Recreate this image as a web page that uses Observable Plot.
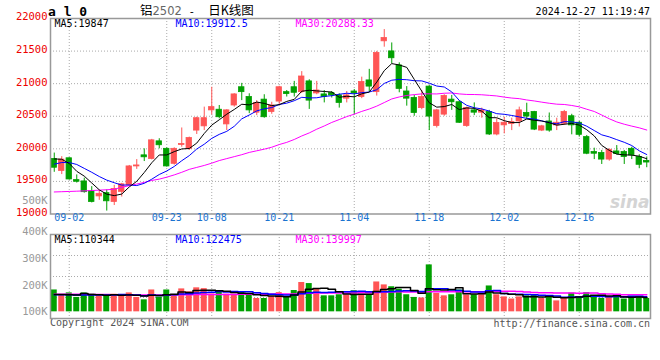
<!DOCTYPE html>
<html><head><meta charset="utf-8">
<script src="https://cdn.jsdelivr.net/npm/d3@7"></script>
<script src="https://cdn.jsdelivr.net/npm/@observablehq/plot@0.6"></script>
<style>
body{margin:0;background:#fff;}
#wrap{position:relative;width:660px;height:360px;background:#fff;overflow:hidden;font-family:"DejaVu Sans Mono",monospace;}
.abs{position:absolute;white-space:pre;}
#wrap svg{position:absolute;left:0;}
</style></head><body>
<div id="wrap">
  <div class="abs" style="left:48px;top:4px;font-size:13px;line-height:16px;font-weight:bold;">a l 0</div>
  <div class="abs" style="left:140px;top:2px;font-size:12.5px;line-height:16px;font-family:'Noto Sans CJK SC',sans-serif;">铝<span style="color:#666;font-family:'DejaVu Sans',sans-serif;font-size:11.5px;">2502</span><span style="font-family:'DejaVu Sans Mono',monospace;font-size:11px;"> -  </span>日K线图</div>
  <div class="abs" id="stamp" style="right:10px;top:6px;font-size:10px;line-height:12px;"></div>
  <div class="abs" id="copy" style="left:50px;top:317px;font-size:10px;line-height:12px;color:#555;"></div>
  <div class="abs" id="url" style="right:10px;top:318px;font-size:10px;line-height:12px;color:#555;"></div>
</div>
<script>
// ---------------- data ----------------
const dates = ["08-29","08-30",
"09-02","09-03","09-04","09-05","09-06",
"09-09","09-10","09-11","09-12","09-13",
"09-18","09-19","09-20",
"09-23","09-24","09-25","09-26","09-27",
"09-30",
"10-08","10-09","10-10","10-11",
"10-14","10-15","10-16","10-17","10-18",
"10-21","10-22","10-23","10-24","10-25",
"10-28","10-29","10-30","10-31","11-01",
"11-04","11-05","11-06","11-07","11-08",
"11-11","11-12","11-13","11-14","11-15",
"11-18","11-19","11-20","11-21","11-22",
"11-25","11-26","11-27","11-28","11-29",
"12-02","12-03","12-04","12-05","12-06",
"12-09","12-10","12-11","12-12","12-13",
"12-16","12-17","12-18","12-19","12-20",
"12-23","12-24","12-25","12-26","12-27"];

const opens = [19845,19660,19855,19520,19500,19350,19270,19320,19185,19340,
19440,19730,19900,19845,20115,20000,19770,20060,20000,20280,
20345,20590,20600,20375,20665,20945,20795,20555,20755,20565,
20725,20870,20945,20870,21035,20850,20835,20855,20820,20770,
20880,20795,21050,20870,21650,21495,21280,20880,20780,20625,
20955,20350,20525,20755,20715,20350,20590,20555,20565,20220,
20360,20380,20420,20550,20565,20280,20420,20360,20385,20500,
20400,20180,19950,19935,19835,19960,19950,20000,19875,19815];
const highs = [19935,19880,19860,19600,19550,19420,19360,19370,19440,19470,
19745,19835,20000,20145,20155,20015,20015,20320,20180,20485,
20640,20945,20665,20600,20845,21005,20845,20740,20830,20715,
20960,20895,21035,21185,21060,21035,20895,20880,20845,20880,
20910,21100,21220,21495,21830,21625,21320,20955,20820,20895,
20970,20605,20830,20820,20740,20640,20705,20625,20590,20460,
20485,20470,20640,20700,20575,20360,20550,20470,20590,20530,
20420,20205,20010,19975,20000,20050,19975,20025,19910,19875];
const lows = [19640,19605,19520,19475,19320,19170,19210,19045,19130,19260,
19420,19685,19805,19830,20000,19720,19750,20025,19975,20220,
20280,20520,20460,20280,20640,20740,20540,20510,20470,20530,
20665,20795,20795,20850,20605,20830,20705,20780,20625,20705,
20525,20770,20880,20810,21560,21305,20860,20655,20500,20600,
20280,20320,20500,20590,20390,20330,20510,20470,20205,20200,
20230,20280,20335,20460,20280,20265,20255,20280,20360,20215,
20180,19910,19835,19760,19810,19910,19760,19835,19695,19710];
const closes = [19710,19835,19530,19495,19335,19185,19310,19195,19385,19455,
19730,19745,19870,20130,20055,19730,20000,20075,20165,20470,
20470,20640,20485,20590,20835,20870,20590,20705,20485,20665,
20945,20840,20860,21110,20740,20895,20795,20820,20705,20820,
20850,21025,20955,21470,21700,21390,20920,20770,20550,20795,
20495,20590,20810,20715,20400,20625,20555,20590,20220,20395,
20400,20410,20590,20495,20295,20345,20280,20400,20565,20360,
20215,19925,19925,19835,19985,19920,19875,19900,19755,19790];
// volume, thousands of lots
const volumes = [182,164,171,154,171,166,159,159,166,159,
171,154,145,182,155,182,165,186,175,190,
187,167,175,166,166,175,164,150,150,157,
172,155,180,210,206,187,160,160,164,163,
179,163,163,212,201,194,185,164,154,152,
276,169,160,164,182,163,164,164,197,164,
156,148,156,160,164,151,157,141,152,170,
157,172,160,150,157,163,148,156,154,150];

const ma5Head  = [19845,19840,19775,19655];
const ma10Head = [19765,19790,19790,19760,19700,19640,19575,19520,19480];
const ma30Head = [19338,19342,19346,19350,19355,19360,19366,19372,19380,19410,
19435,19460,19485,19515,19535,19565,19600,19640,19685,19715,
19745,19780,19820,19850,19880,19910,19945,19970,19995];
const vma5Head  = [165,165,164,163];
const vma10Head = [164,164,164,163,163,163,163,163,163];
const vma30Head = [166,166,166,166,166,165,165,165,164,164,
163,163,163,163,163,164,164,164,164,165,
165,165,165,165,165,166,166,166,166];

const maNames = ["MA5","MA10","MA30"];
const priceMaLast = ["19847","19912.5","20288.33"];
const volMaLast = ["110344","122475","139997"];

const priceTicks = [19000,19500,20000,20500,21000,21500,22000];
const volTicks = [100,200,300,400];
const dateTicks = ["09-02","09-23","10-08","10-21","11-04","11-18","12-02","12-16"];
const strayLabel = ["500K"]; const strayLabelAt = [19200];

const stampText = "2024-12-27 11:19:47";
const copyText = "Copyright 2024 SINA.COM";
const urlText = "http://finance.sina.com.cn";

// ---------------- styles ----------------
const RED = "#ff5555", GREEN = "#00a000";
const maColors = ["#000000","#0000ff","#ff00ff"];
const legendDx = [4,125,245];
const GRID = "#aaaaaa";
const FONT = "DejaVu Sans Mono, monospace";

document.getElementById("stamp").textContent = stampText;
document.getElementById("copy").textContent = copyText;
document.getElementById("url").textContent = urlText;

// ---------------- build ----------------
const N = dates.length;
function movingAvg(values, n, head) {
  return values.map((v, i) => i < n - 1 ? head[i] : d3.mean(values.slice(i - n + 1, i + 1)));
}
const ma = [movingAvg(closes,5,ma5Head), movingAvg(closes,10,ma10Head), movingAvg(closes,30,ma30Head)];
const vma = [movingAvg(volumes,5,vma5Head), movingAvg(volumes,10,vma10Head), movingAvg(volumes,30,vma30Head)];

const candles = dates.map((d, i) => ({i, date: d, open: opens[i], high: highs[i], low: lows[i], close: closes[i], vol: volumes[i]}));
const col = d => d.close >= d.open ? RED : GREEN;
const tickIdx = dateTicks.map(t => dates.indexOf(t));
const half = 0.36;

const main = Plot.plot({
  width: 660, height: 232,
  marginLeft: 50, marginRight: 10, marginTop: 18, marginBottom: 18.5,
  x: {type: "linear", domain: [-0.5, N - 0.5], axis: null},
  y: {domain: [priceTicks[0], priceTicks[priceTicks.length - 1]], axis: null},
  color: {type: "identity"},
  style: {fontFamily: FONT, fontSize: "10px", background: "transparent", overflow: "visible"},
  marks: [
    Plot.ruleY(priceTicks.slice(1, -1), {stroke: GRID, strokeDasharray: "1,2"}),
    Plot.ruleX(tickIdx, {x: d => d, stroke: GRID, strokeDasharray: "1,2"}),
    Plot.text(["sina"], {frameAnchor: "bottom-right", dx: -1, dy: -6, fontSize: 17, fontStyle: "italic", fontWeight: "bold", fill: "#d4d4d4", fontFamily: "DejaVu Sans, sans-serif"}),
    Plot.ruleX(candles, {x: "i", y1: "low", y2: "high", stroke: col, strokeWidth: 1}),
    Plot.rect(candles, {x1: d => d.i - half, x2: d => d.i + half, y1: "open", y2: "close", fill: col, stroke: col, strokeWidth: 0.8}),
    ...[2, 1, 0].map(k => Plot.line(candles, {x: "i", y: d => ma[k][d.i], stroke: maColors[k], strokeWidth: 1})),
    Plot.frame({stroke: "#999", strokeWidth: 1.5}),
    Plot.text(priceTicks, {y: d => d, frameAnchor: "left", dx: -3, dy: -1.5, textAnchor: "end", text: d => String(d), fill: "#ee0000", fontSize: 10.5}),
    Plot.text(strayLabel, {y: (d, i) => strayLabelAt[i], frameAnchor: "left", dx: -3, textAnchor: "end", fill: "#999", fontSize: 10.5}),
    Plot.text(dateTicks, {x: (d, i) => tickIdx[i], frameAnchor: "bottom", dy: 7, fill: "#1a73d0", fontSize: 10}),
    ...maNames.map((m, k) => Plot.text([`${m}:${priceMaLast[k]}`], {frameAnchor: "top-left", dx: legendDx[k], dy: 1, lineAnchor: "top", textAnchor: "start", fill: maColors[k], fontSize: 10}))
  ]
});
main.style.top = "0px";

const vol = Plot.plot({
  width: 660, height: 104,
  marginLeft: 50, marginRight: 10, marginTop: 10, marginBottom: 10,
  x: {type: "linear", domain: [-0.5, N - 0.5], axis: null},
  y: {domain: [75, 390], axis: null},
  color: {type: "identity"},
  style: {fontFamily: FONT, fontSize: "10px", background: "transparent", overflow: "visible"},
  marks: [
    Plot.ruleY([1, 2, 3].map(k => 75 + (390 - 75) * k / 4), {stroke: GRID, strokeDasharray: "1,2"}),
    Plot.ruleX(tickIdx, {x: d => d, stroke: GRID, strokeDasharray: "1,2"}),
    Plot.rect(candles, {x1: d => d.i - 0.4, x2: d => d.i + 0.4, y1: volTicks[0], y2: "vol", fill: col}),
    ...[2, 1, 0].map(k => Plot.line(candles, {x: "i", y: d => vma[k][d.i], stroke: maColors[k], strokeWidth: 1.5, curve: "step"})),
    Plot.frame({stroke: "#999", strokeWidth: 1.5}),
    Plot.text(volTicks, {y: d => d, frameAnchor: "left", dx: -3, textAnchor: "end", text: d => d + "K", fill: "#999", fontSize: 10.5}),
    ...maNames.map((m, k) => Plot.text([`${m}:${volMaLast[k]}`], {frameAnchor: "top-left", dx: legendDx[k], dy: 1, lineAnchor: "top", textAnchor: "start", fill: maColors[k], fontSize: 10}))
  ]
});
vol.style.top = "224px";

const wrap = document.getElementById("wrap");
wrap.appendChild(main);
wrap.appendChild(vol);
</script>
</body></html>
